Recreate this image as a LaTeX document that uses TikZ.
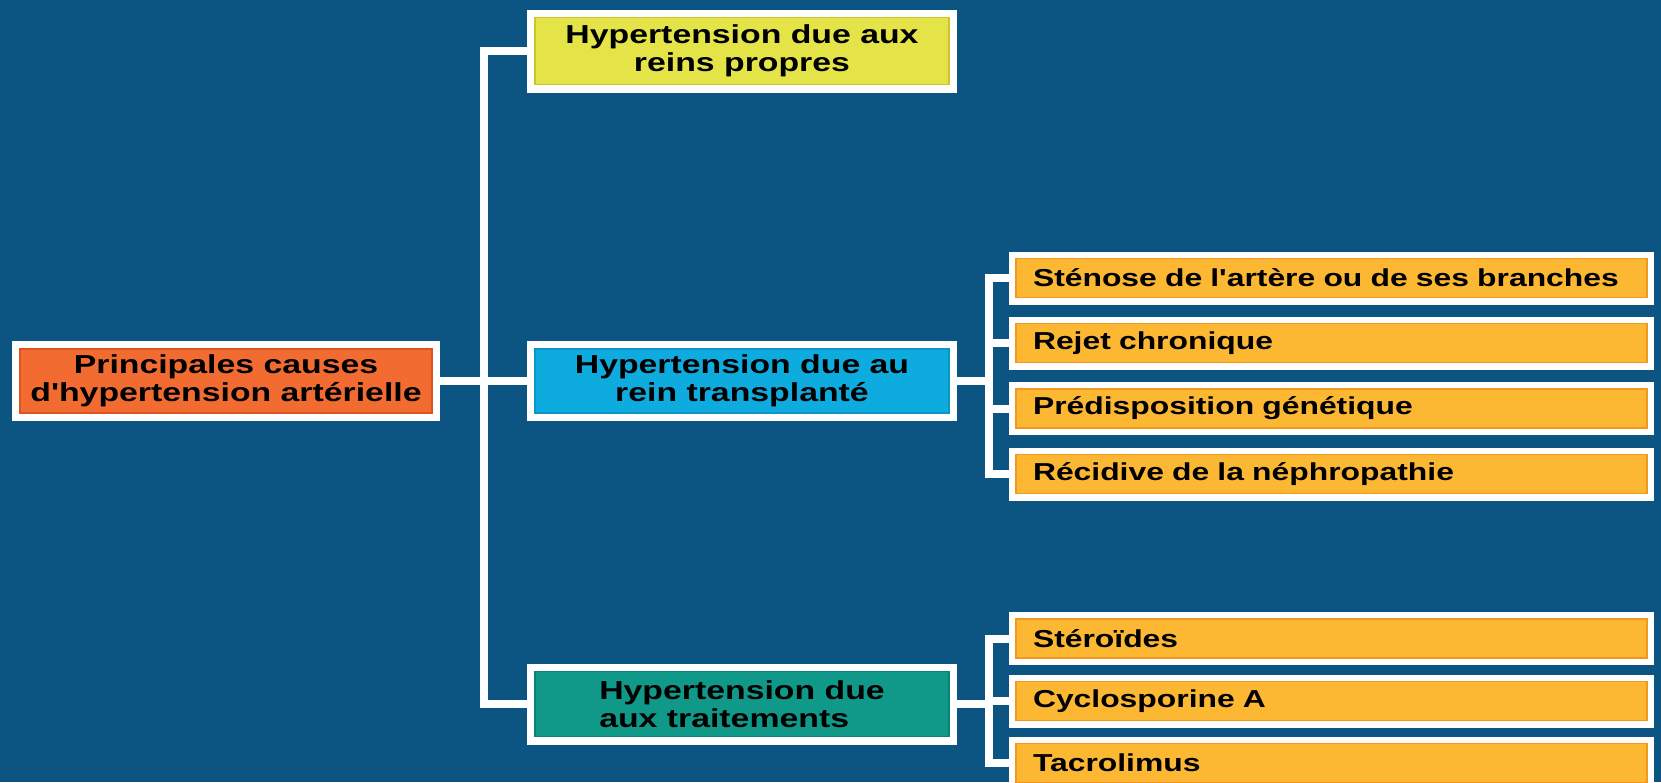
\documentclass[tikz,border=0pt]{standalone}
\usepackage{fontspec}
\newfontfamily\boxfont{Liberation Sans}[FakeStretch=1.3]
\usetikzlibrary{backgrounds}
\definecolor{bgblue}{RGB}{12,84,130}
\definecolor{rootfill}{RGB}{242,108,50}
\definecolor{rootedge}{RGB}{222,84,30}
\definecolor{ownfill}{RGB}{228,228,72}
\definecolor{ownedge}{RGB}{206,196,40}
\definecolor{graftfill}{RGB}{14,172,222}
\definecolor{graftedge}{RGB}{10,150,200}
\definecolor{drugfill}{RGB}{16,152,136}
\definecolor{drugedge}{RGB}{10,130,116}
\definecolor{itemfill}{RGB}{253,184,51}
\definecolor{itemedge}{RGB}{242,152,30}
\tikzset{
  headbox/.style={rectangle, inner sep=0pt, minimum width=414pt,
    preaction={draw=white, line width=16pt}, line width=1.2pt,
    align=center, text=black,
    font=\boxfont\bfseries\fontsize{26}{28.5}\selectfont},
  itembox/.style={rectangle, inner xsep=17pt, inner ysep=0pt,
    text width=597pt, minimum height=39pt, align=left,
    preaction={draw=white, line width=14pt},
    fill=itemfill, draw=itemedge, line width=1.2pt, text=black,
    font=\boxfont\bfseries\fontsize{24.5}{26}\selectfont},
  link/.style={draw=white, line width=8pt, line cap=rect}
}
\begin{document}
\begin{tikzpicture}[x=1pt,y=-1pt]
\useasboundingbox (0,0) rectangle (1661,782);
\clip (0,0) rectangle (1661,782);

% root and the three families of causes
\node[headbox, fill=rootfill, draw=rootedge, minimum width=412pt, minimum height=64pt]
  (root) at (226,381) {Principales causes\\d'hypertension artérielle};
\node[headbox, fill=ownfill, draw=ownedge, minimum height=67pt]
  (own) at (742,51) {Hypertension due aux\\reins propres};
\node[headbox, fill=graftfill, draw=graftedge, minimum height=64pt]
  (graft) at (742,381) {Hypertension due au\\rein transplanté};
\node[headbox, fill=drugfill, draw=drugedge, minimum height=65pt, align=left]
  (drug) at (742,704) {Hypertension due\\aux traitements};

% transplant-related causes
\node[itembox] (g1) at (1331.5,278) {Sténose de l'artère ou de ses branches};
\node[itembox] (g2) at (1331.5,343) {Rejet chronique};
\node[itembox] (g3) at (1331.5,408.5) {Prédisposition génétique};
\node[itembox] (g4) at (1331.5,474) {Récidive de la néphropathie};

% treatment-related causes
\node[itembox] (d1) at (1331.5,638.5) {Stéroïdes};
\node[itembox] (d2) at (1331.5,701) {Cyclosporine A};
\node[itembox] (d3) at (1331.5,763) {Tacrolimus};

\coordinate (trunk) at (484,0);
\coordinate (fork) at (989,0);

\begin{pgfonlayer}{background}
  \fill[bgblue] (0,0) rectangle (1661,782);
  % main tree
  \draw[link] (root.east) -- (graft.west);
  \draw[link] (own.west) -| (trunk |- drug.west) -- (drug.west);
  % transplant bracket
  \draw[link] (graft.east) -- (fork |- graft.east);
  \draw[link] (g1.west) -| (fork |- g4.west) -- (g4.west);
  \draw[link] (fork |- g2.west) -- (g2.west);
  \draw[link] (fork |- g3.west) -- (g3.west);
  % treatment bracket
  \draw[link] (drug.east) -- (fork |- drug.east);
  \draw[link] (d1.west) -| (fork |- d3.west) -- (d3.west);
  \draw[link] (fork |- d2.west) -- (d2.west);
\end{pgfonlayer}
\end{tikzpicture}
\end{document}
